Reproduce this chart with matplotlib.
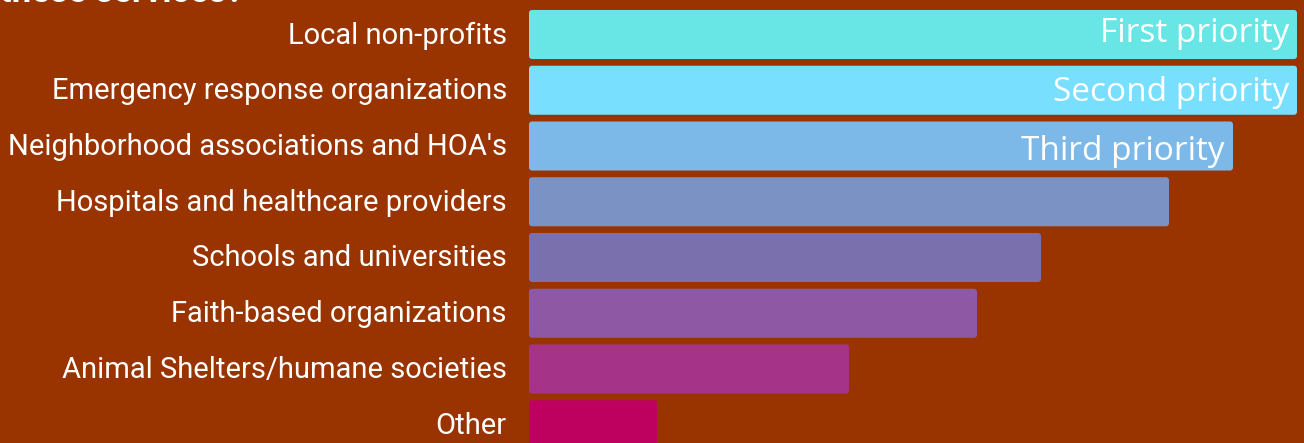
import matplotlib.pyplot as plt
from matplotlib.patches import FancyBboxPatch
from matplotlib.transforms import ScaledTranslation

categories = [
    "Local non-profits",
    "Emergency response organizations",
    "Neighborhood associations and HOA's",
    "Hospitals and healthcare providers",
    "Schools and universities",
    "Faith-based organizations",
    "Animal Shelters/humane societies",
    "Other",
]
values = [12, 12, 11, 10, 8, 7, 5, 2]
bar_notes = ["First priority", "Second priority", "Third priority"]
colors = ["#68E6E6", "#78DFFF", "#7DB9E8", "#7B93C4",
          "#7A70AE", "#8E58A4", "#A53388", "#BE005F"]
bg = "#993300"

W, H = 1304, 443
fig = plt.figure(figsize=(W / 100, H / 100), dpi=100, facecolor=bg)
ax = fig.add_axes([529 / W, 0, 1 - 529 / W, 1])
ax.set_facecolor(bg)

ypos = list(range(len(categories)))
bars = ax.barh(ypos, values, height=0.88, color=colors)

# swap plain rectangles for slightly rounded ones
px_x = 64.0      # pixels per x unit
px_y = 55.75     # pixels per y unit
r = 3.0
for b in bars:
    x0, y0 = b.get_x(), b.get_y()
    w, h = b.get_width(), b.get_height()
    b.set_visible(False)
    p = FancyBboxPatch((x0 + r / px_x, y0 + r / px_y),
                       w - 2 * r / px_x, h - 2 * r / px_y,
                       boxstyle=f"round,pad={r / px_x},rounding_size={r / px_x}",
                       mutation_aspect=px_x / px_y,
                       facecolor=b.get_facecolor(), edgecolor="none")
    ax.add_patch(p)

ax.set_xlim(0, (W - 529) / px_x)
ax.set_ylim((H - 34.5) / px_y, -34.5 / px_y)

ax.set_yticks(ypos)
ax.set_yticklabels(categories, fontsize=21, color="white", family="Roboto",
                   va="center_baseline")
ax.tick_params(axis="y", length=0, pad=16)
shift = ScaledTranslation(0, 2 / 100, fig.dpi_scale_trans)
for lab in ax.get_yticklabels():
    lab.set_transform(lab.get_transform() + shift)
ax.set_xticks([])
for s in ax.spines.values():
    s.set_visible(False)

# notes drift slightly downwards relative to the bars
for i, note in enumerate(bar_notes):
    dy = (-1 + 3.25 * i) / px_y
    ax.text(values[i] - 8 / px_x, i + dy, note, ha="right", va="center",
            fontsize=24, color="white", family="Open Sans")

fig.text(0.0, 1 - 2 / H, "these services?", ha="left", va="baseline",
         fontsize=25, fontweight="bold", color="white", family="Roboto")

fig.savefig("out.png", dpi=100, facecolor=bg)
